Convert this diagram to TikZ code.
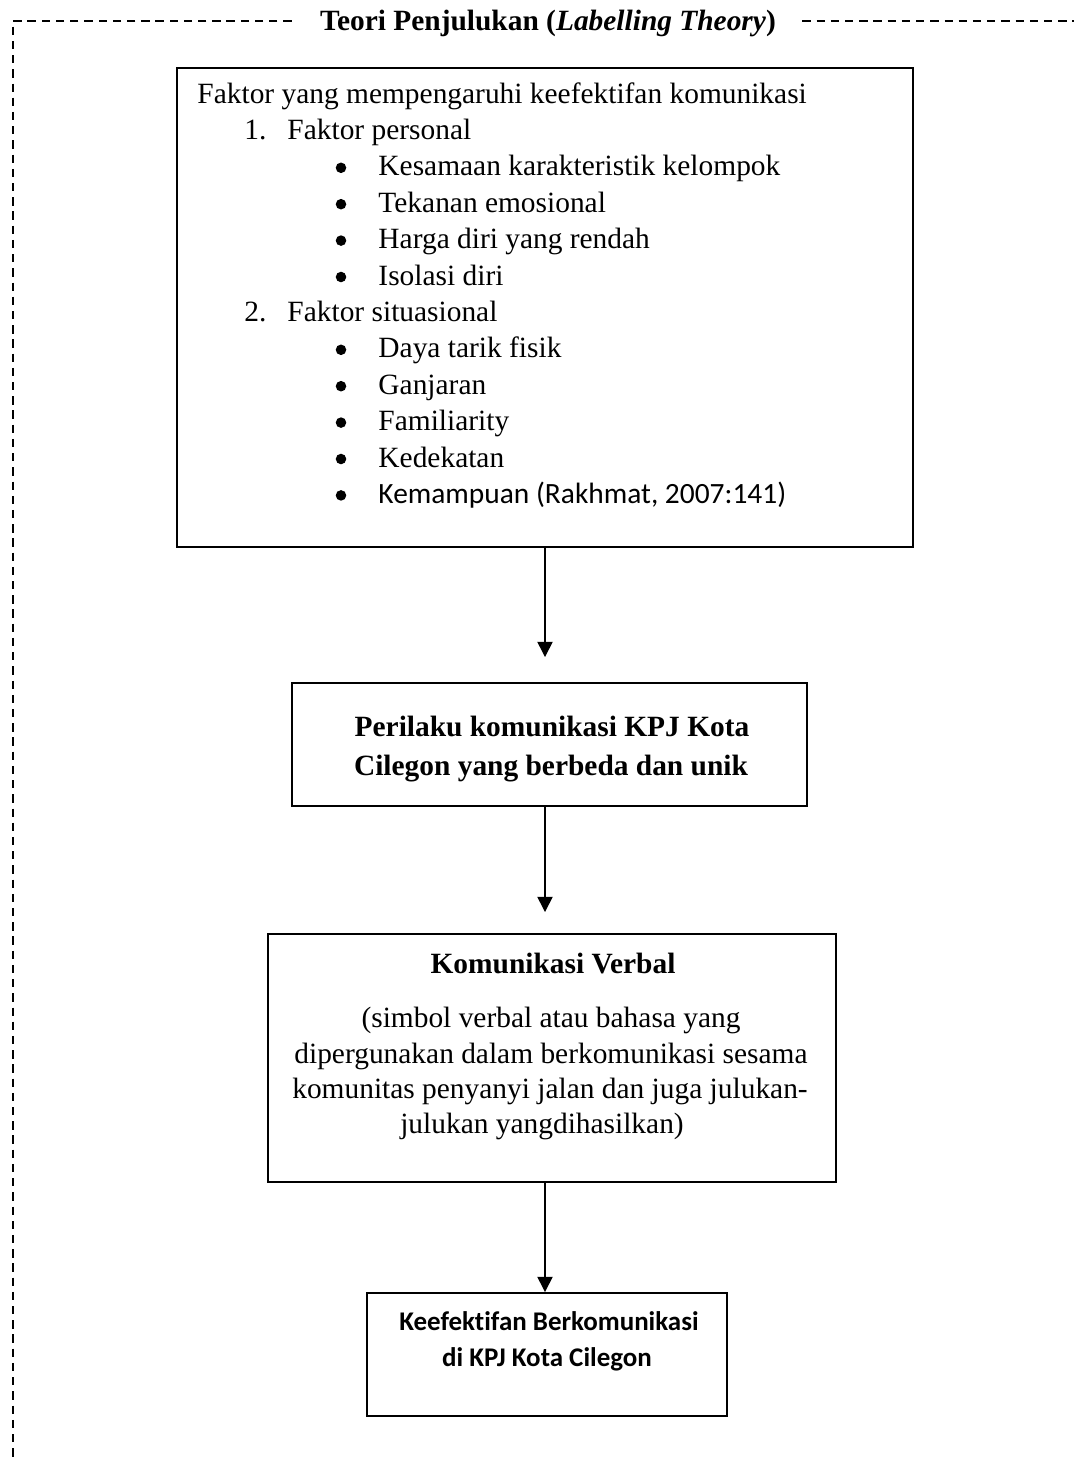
\documentclass[tikz,border=0pt]{standalone}
\usepackage{fontspec}
\setmainfont[Ligatures=NoCommon]{Liberation Serif}
\newfontfamily\calibri[Ligatures=NoCommon]{Carlito}
\usetikzlibrary{arrows.meta,positioning}
\newlength\px
\setlength\px{0.408pt}

\begin{document}
\begin{tikzpicture}[x=\px,y=-\px,
  every node/.style={font=\fontsize{12}{14.6}\selectfont,inner sep=0pt},
  kotak/.style={draw,line width=0.8pt,rectangle},
  baris/.style={anchor=base west},
  tengah/.style={anchor=base},
  titik/.style={circle,fill,minimum size=4.3pt},
  bingkai/.style={dash pattern=on 3.4pt off 2.4pt,line width=0.5pt},
  panah/.style={-{Triangle[width=6.2pt,length=6.2pt]},line width=0.6pt}]
  \useasboundingbox (0,0) rectangle (1074,1466);
  % dashed frame with title
  \node[tengah] (judul) at (548,30) {\textbf{Teori Penjulukan (\textit{Labelling Theory})}};
  \coordinate (sudut) at (13,21);
  \coordinate (bawah) at (13,1460);
  \coordinate (kanan) at (1074,21);
  \draw[bingkai] (judul.west |- sudut) ++(-28,0) -- (sudut) -- (bawah);
  \draw[bingkai] (judul.east |- kanan) ++(26,0) -- (kanan);
  % boxes
  \node[kotak,minimum width=736\px,minimum height=479\px] (faktor) at (545,307.5) {};
  \node[kotak,minimum width=515\px,minimum height=123\px] (perilaku) at (549.5,744.5) {};
  \node[kotak,minimum width=568\px,minimum height=248\px] (verbal) at (552,1058) {};
  \node[kotak,minimum width=360\px,minimum height=123\px] (efektif) at (547,1354.5) {};
  % factors list
  \node[baris] (f0) at (197,103) {Faktor yang mempengaruhi keefektifan komunikasi};
  \node[baris] (n1) at (244,139.4) {1.};
  \node[baris] (f1) at (287,139.4) {Faktor personal};
  \foreach \teks [count=\i from 2] in {Kesamaan karakteristik kelompok,Tekanan emosional,Harga diri yang rendah,Isolasi diri}{
    \node[titik] (t\i) at (341,{95+36.4*\i}) {};
    \node[baris] (f\i) at (378,{103+36.4*\i}) {\teks};
  }
  \node[baris] (n2) at (244,321.4) {2.};
  \node[baris] (f6) at (287,321.4) {Faktor situasional};
  \foreach \teks [count=\i from 7] in {Daya tarik fisik,Ganjaran,Familiarity,Kedekatan}{
    \node[titik] (t\i) at (341,{95+36.4*\i}) {};
    \node[baris] (f\i) at (378,{103+36.4*\i}) {\teks};
  }
  \node[titik] (t11) at (341,495.4) {};
  \node[baris] (f11) at (378,503.4) {\calibri Kemampuan (Rakhmat, 2007:141)};
  % box texts
  \node[tengah] (p1) at (552,736) {\textbf{Perilaku komunikasi KPJ Kota}};
  \node[tengah] (p2) at (551,775) {\textbf{Cilegon yang berbeda dan unik}};
  \node[tengah] (v0) at (553,973) {\textbf{Komunikasi Verbal}};
  \node[tengah] (v1) at (551,1027) {(simbol verbal atau bahasa yang};
  \node[tengah] (v2) at (551,1063) {dipergunakan dalam berkomunikasi sesama};
  \node[tengah] (v3) at (550,1098) {komunitas penyanyi jalan dan juga julukan-};
  \node[tengah] (v4) at (542,1133) {julukan yangdihasilkan)};
  \node[tengah,font=\calibri\bfseries\fontsize{11}{13}\selectfont] (e1) at (549,1330) {Keefektifan Berkomunikasi};
  \node[tengah,font=\calibri\bfseries\fontsize{11}{13}\selectfont] (e2) at (547,1366) {di KPJ Kota Cilegon};
  % arrows
  \draw[panah,shorten >=25\px] (faktor.south) -- (faktor.south |- perilaku.north);
  \draw[panah,shorten >=21\px] (faktor.south |- perilaku.south) -- (faktor.south |- verbal.north);
  \draw[panah] (faktor.south |- verbal.south) -- (faktor.south |- efektif.north);
\end{tikzpicture}
\end{document}
